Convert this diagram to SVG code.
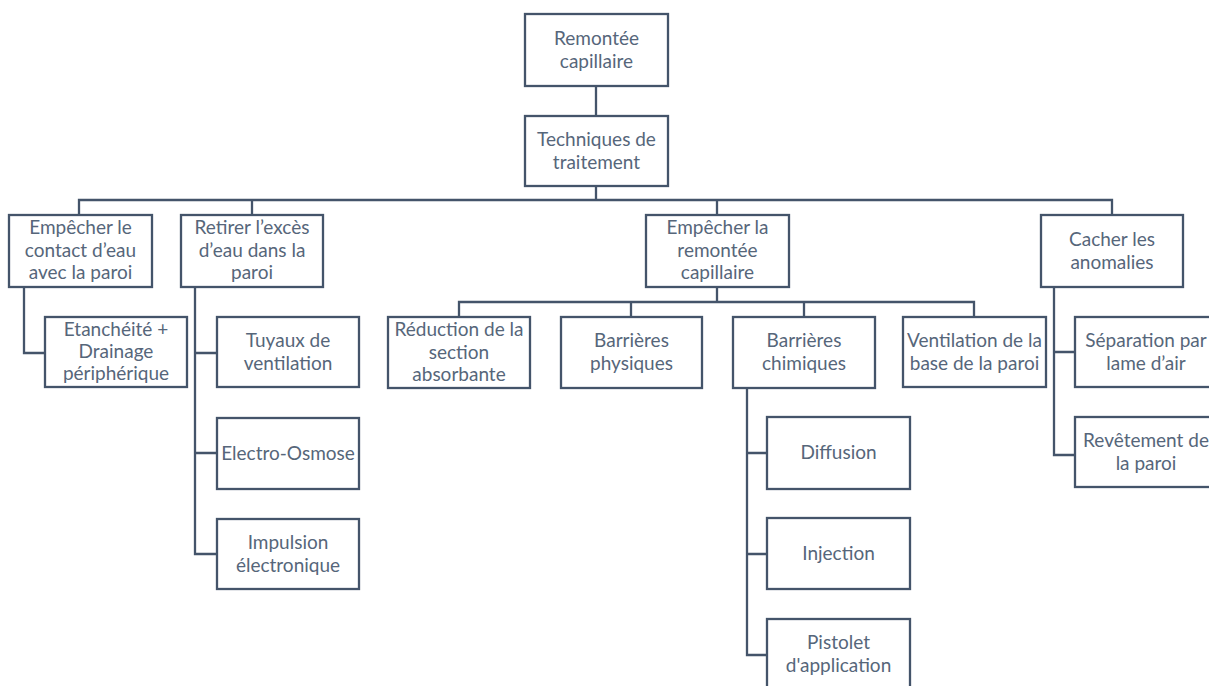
<svg xmlns="http://www.w3.org/2000/svg" width="1209" height="686" viewBox="0 0 1209 686">
<style>
.b{fill:#fff;stroke:#44546a;stroke-width:2.3}
.c{fill:none;stroke:#44546a;stroke-width:2.3}
text{font-family:Lato,"Liberation Sans",sans-serif;font-size:19px;fill:#56667a;text-anchor:middle}
</style>
<rect width="1209" height="686" fill="#fff"/>
<g id="connectors" class="c">
<path d="M596,86V116M596,186V200M79,215V200H1112V215M252,200V215M717,200V215"/>
<path d="M24,287V353H45"/>
<path d="M195,287V554H217M195,353H217M195,453H217"/>
<path d="M717,287V302M459,317V302H974V317M631,302V317M804,302V317"/>
<path d="M747,388V655H767M747,453H767M747,554H767"/>
<path d="M1054,287V455H1075M1054,352H1075"/>
</g>
<g id="root"><rect class="b" x="525" y="14" width="143" height="72"/><text x="596.5" y="45">Remontée</text><text x="596.5" y="68">capillaire</text></g>
<g id="techniques"><rect class="b" x="525" y="116" width="143" height="70"/><text x="596.5" y="146">Techniques de</text><text x="596.5" y="169">traitement</text></g>
<g id="empecher-contact"><rect class="b" x="9" y="215" width="143" height="72"/><text x="80.5" y="234">Empêcher le</text><text x="80.5" y="257">contact d’eau</text><text x="80.5" y="279">avec la paroi</text></g>
<g id="retirer"><rect class="b" x="181" y="215" width="142" height="72"/><text x="252" y="234">Retirer l’excès</text><text x="252" y="257">d’eau dans la</text><text x="252" y="279">paroi</text></g>
<g id="empecher-remontee"><rect class="b" x="646" y="215" width="143" height="72"/><text x="717.5" y="234">Empêcher la</text><text x="717.5" y="257">remontée</text><text x="717.5" y="279">capillaire</text></g>
<g id="cacher"><rect class="b" x="1041" y="215" width="142" height="72"/><text x="1112" y="246">Cacher les</text><text x="1112" y="269">anomalies</text></g>
<g id="etancheite"><rect class="b" x="45" y="317" width="142" height="70"/><text x="116" y="336">Etanchéité +</text><text x="116" y="358">Drainage</text><text x="116" y="380">périphérique</text></g>
<g id="tuyaux"><rect class="b" x="217" y="317" width="142" height="70"/><text x="288" y="347">Tuyaux de</text><text x="288" y="370">ventilation</text></g>
<g id="electro"><rect class="b" x="217" y="418" width="142" height="71"/><text x="288" y="460">Electro-Osmose</text></g>
<g id="impulsion"><rect class="b" x="217" y="519" width="142" height="70"/><text x="288" y="549">Impulsion</text><text x="288" y="572">électronique</text></g>
<g id="reduction"><rect class="b" x="388" y="317" width="142" height="71"/><text x="459" y="336">Réduction de la</text><text x="459" y="359">section</text><text x="459" y="381">absorbante</text></g>
<g id="physiques"><rect class="b" x="561" y="317" width="141" height="71"/><text x="631.5" y="347">Barrières</text><text x="631.5" y="370">physiques</text></g>
<g id="chimiques"><rect class="b" x="733" y="317" width="142" height="71"/><text x="804" y="347">Barrières</text><text x="804" y="370">chimiques</text></g>
<g id="ventilation"><rect class="b" x="903" y="317" width="143" height="70"/><text x="974.5" y="347">Ventilation de la</text><text x="974.5" y="370">base de la paroi</text></g>
<g id="diffusion"><rect class="b" x="767" y="417" width="143" height="72"/><text x="838.5" y="459">Diffusion</text></g>
<g id="injection"><rect class="b" x="767" y="518" width="143" height="71"/><text x="838.5" y="560">Injection</text></g>
<g id="pistolet"><rect class="b" x="767" y="619" width="143" height="72"/><text x="838.5" y="649">Pistolet</text><text x="838.5" y="672">d'application</text></g>
<g id="separation"><rect class="b" x="1075" y="317" width="142" height="70"/><text x="1146" y="347">Séparation par</text><text x="1146" y="370">lame d’air</text></g>
<g id="revetement"><rect class="b" x="1075" y="417" width="142" height="70"/><text x="1146" y="447">Revêtement de</text><text x="1146" y="470">la paroi</text></g>
</svg>
